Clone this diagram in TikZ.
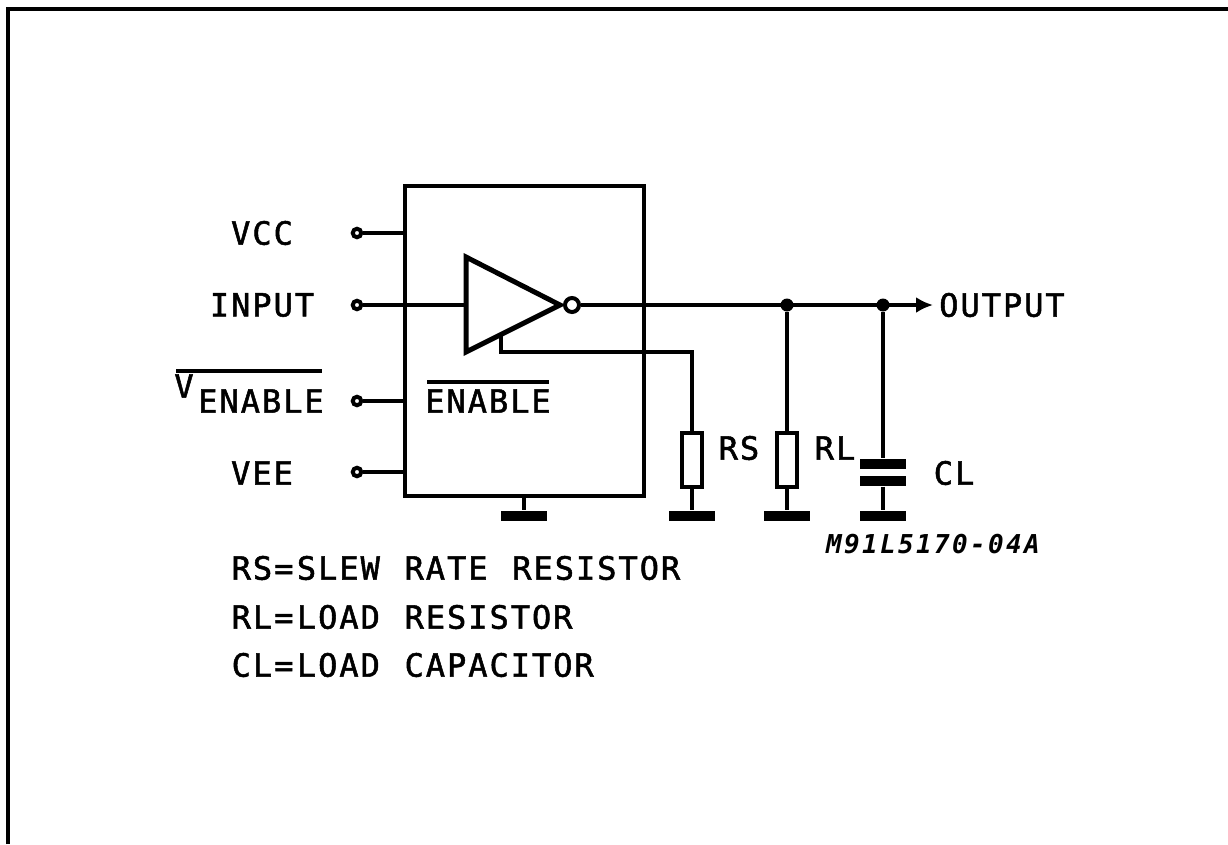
\documentclass[tikz,border=0pt]{standalone}
\usepackage{fontspec}
\newfontfamily\plotfont{DejaVu Sans Mono}[LetterSpace=6.2, FakeBold=1.6]
\newfontfamily\codefont{DejaVu Sans Mono Bold Oblique}[LetterSpace=9]
\newcommand{\lgap}{\hspace{0.35mm}}
\usetikzlibrary{
    arrows.meta,
    calc,
    positioning
}
\tikzset{
    wire/.style={line width=0.33mm},
    heavy/.style={line width=0.5mm, line join=miter},
    lbl/.style={inner sep=0pt, font=\fontsize{9.1pt}{12pt}\plotfont},
    code/.style={inner sep=0pt, font=\fontsize{7.4pt}{10pt}\codefont},
    pin/.style={circle, draw, line width=0.4mm, fill=white, inner sep=0pt, minimum size=0.85mm},
    dot/.style={circle, fill=black, inner sep=0pt, minimum size=1.3mm},
    bubble/.style={circle, draw, line width=0.4mm, fill=white, inner sep=0pt, minimum size=1.4mm},
    res/.style={draw, line width=0.33mm, fill=white, inner sep=0pt, minimum width=2mm, minimum height=5.4mm},
    bar/.style={fill=black, inner sep=0pt, minimum width=4.6mm, minimum height=1mm}
}
\begin{document}
\begin{tikzpicture}[x=0.1mm, y=-0.1mm]
    \useasboundingbox (0, 0) rectangle (1228, 844);
    \draw[line width=0.4mm] (8, 844) -- (8, 9) -- (1228, 9);
    % chip
    \node[draw, wire, inner sep=0pt, minimum width=23.9mm, minimum height=31mm] (chip) at (524.5, 341) {};
    \foreach \pinname/\yy in {vcc/233, input/305, venable/401, vee/472} {
        \node[pin] (\pinname) at (357, \yy) {};
    }
    \draw[wire] (vcc) -- (vcc -| chip.west);
    \draw[wire] (venable) -- (venable -| chip.west);
    \draw[wire] (vee) -- (vee -| chip.west);
    % inverter
    \coordinate (invtop) at (466, 257);
    \coordinate (invbot) at (466, 352);
    \coordinate (invtip) at (560, 305);
    \draw[heavy] (invtop) -- (invtip) -- (invbot) -- cycle;
    \node[bubble] (neg) at (572, 305) {};
    \draw[wire] (input) -- (input -| invtop);
    % output line
    \coordinate (outend) at (933, 305);
    \node[dot] (jrl) at (787, 305) {};
    \node[dot] (jcl) at (883, 305) {};
    \draw[wire, -{Latex[length=1.7mm, width=1.6mm]}] (neg) -- (outend);
    % enable line to rs
    \coordinate (entap) at (501, 334);
    \coordinate (encorner) at (692, 352);
    \node[res] (rs) at (692, 460) {};
    \node[res] (rl) at (787, 460) {};
    \draw[wire] (entap) -- (entap |- encorner) -- (encorner) -- (rs);
    \draw[wire] (jrl) -- (rl);
    % grounds
    \node[bar] (gchip) at (524, 516) {};
    \node[bar] (grs) at (692, 516) {};
    \node[bar] (grl) at (787, 516) {};
    \node[bar] (gcl) at (883, 516) {};
    \node[bar] (cltop) at (883, 464) {};
    \node[bar] (clbot) at (883, 481) {};
    \draw[wire] (chip.south -| gchip) -- (gchip);
    \draw[wire] (rs) -- (grs);
    \draw[wire] (rl) -- (grl);
    \draw[wire] (jcl) -- (cltop);
    \draw[wire] (clbot) -- (gcl);
    % labels
    \node[lbl] (tvcc) at (262, 233) {VCC};
    \node[lbl] (tinput) at (262, 305) {INPUT};
    \node[lbl] (tv) at (184, 386) {V};
    \node[lbl] (tenable) at (261, 401) {ENABLE};
    \node[lbl] (tvee) at (262, 473) {VEE};
    \node[lbl] (tinner) at (488, 401) {ENABLE};
    \node[lbl] (toutput) at (1002, 305) {OUTPUT};
    \node[lbl] (trs) at (739, 448) {RS};
    \node[lbl] (trl) at (835, 448) {RL};
    \node[lbl] (tcl) at (954, 473) {CL};
    \node[code] (tcode) at (933, 544) {M91L5170-04A};
    \draw[wire] (176, 371) -- (322, 371);
    \draw[wire] (427, 382) -- (549, 382);
    % legend
    \node[lbl, anchor=west] (lrs) at (231, 568) {RS=\lgap SLEW \lgap RATE \lgap RESISTOR};
    \node[lbl, anchor=west] (lrl) at (231, 617) {RL=\lgap LOAD \lgap RESISTOR};
    \node[lbl, anchor=west] (lcl) at (231, 665) {CL=\lgap LOAD \lgap CAPACITOR};
\end{tikzpicture}
\end{document}
